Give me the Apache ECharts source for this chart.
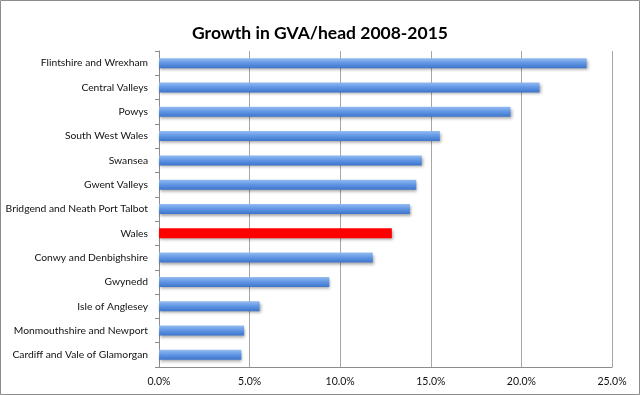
<!DOCTYPE html>
<html>
<head>
<meta charset="utf-8">
<script src="https://cdn.jsdelivr.net/npm/echarts@6/dist/echarts.min.js"></script>
<style>
html,body{margin:0;padding:0;background:#fff;}
#chart{width:640px;height:395px;}
</style>
</head>
<body>
<div id="chart"></div>
<script>
const categories = [
  "Flintshire and Wrexham",
  "Central Valleys",
  "Powys",
  "South West Wales",
  "Swansea",
  "Gwent Valleys",
  "Bridgend and Neath Port Talbot",
  "Wales",
  "Conwy and Denbighshire",
  "Gwynedd",
  "Isle of Anglesey",
  "Monmouthshire and Newport",
  "Cardiff and Vale of Glamorgan"
];
const growthPct = [23.6, 21.0, 19.4, 15.5, 14.5, 14.2, 13.85, 12.85, 11.8, 9.4, 5.55, 4.7, 4.55];
const highlightCategory = "Wales";
const xTicks = [0, 5, 10, 15, 20, 25];

const blueGrad = new echarts.graphic.LinearGradient(0, 0, 0, 1, [
  {offset: 0, color: '#94bbf2'},
  {offset: 0.5, color: '#5f95e3'},
  {offset: 1, color: '#3d75cc'}
]);

const chart = echarts.init(document.getElementById('chart'), null, {renderer: 'canvas'});
chart.setOption({
  animation: false,
  backgroundColor: '#ffffff',
  title: {
    text: 'Growth in GVA/head 2008-2015',
    left: 'center',
    top: 19,
    textStyle: {fontFamily: 'Lato', fontWeight: 'bold', fontSize: 17.5, color: '#000'}
  },
  graphic: [{
    type: 'rect',
    shape: {x: 0.5, y: 0.5, width: 639, height: 394},
    style: {fill: 'none', stroke: '#8c8c8c', lineWidth: 1},
    silent: true
  }],
  grid: {left: 159, right: 28, top: 51, bottom: 28, containLabel: false, outerBoundsMode: 'none'},
  xAxis: {
    type: 'value',
    min: xTicks[0],
    max: xTicks[xTicks.length - 1],
    interval: 5,
    axisLine: {show: true, lineStyle: {color: '#8c8c8c'}},
    axisTick: {show: false},
    splitLine: {show: true, lineStyle: {color: '#a6a6a6', width: 1}},
    axisLabel: {
      formatter: v => v.toFixed(1) + '%',
      fontFamily: 'Lato', fontSize: 10.5, color: '#111', margin: 9
    }
  },
  yAxis: {
    type: 'category',
    data: categories,
    inverse: true,
    axisLine: {show: true, lineStyle: {color: '#8c8c8c'}},
    axisTick: {show: true, length: 4, lineStyle: {color: '#8c8c8c'}},
    axisLabel: {fontFamily: 'Lato', fontSize: 10.3, color: '#111', margin: 11},
    splitLine: {show: false}
  },
  series: [{
    type: 'bar',
    barWidth: 10,
    data: growthPct.map((v, i) => ({
      value: v,
      itemStyle: categories[i] === highlightCategory
        ? {color: '#ff0000'}
        : {color: blueGrad}
    })),
    itemStyle: {
      shadowColor: 'rgba(0,0,0,0.35)',
      shadowBlur: 3,
      shadowOffsetX: 1,
      shadowOffsetY: 2
    }
  }]
});
</script>
</body>
</html>
